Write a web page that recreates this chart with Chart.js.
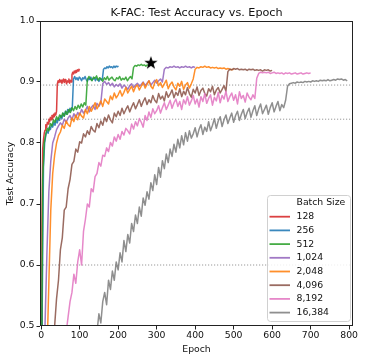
<!DOCTYPE html>
<html>
<head>
<meta charset="utf-8">
<script src="https://cdn.jsdelivr.net/npm/chart.js@4/dist/chart.umd.min.js"></script>
<style>
  html, body { margin: 0; padding: 0; background: #fff; }
  #wrap { width: 366px; height: 361px; }
</style>
</head>
<body>
<div id="wrap"><canvas id="acc" width="366" height="361"></canvas></div>
<script>
const batchLabels = ['128', '256', '512', '1,024', '2,048', '4,096', '8,192', '16,384']
const batchColors = ['#d62728', '#1f77b4', '#2ca02c', '#9467bd', '#ff7f0e', '#8c564b', '#e377c2', '#7f7f7f']

// first epoch and epoch spacing of each run
const epochStart = [0, 0, 0, 0, 0, 20, 50, 135]
const epochStep = [2, 3, 4, 5, 5, 5, 5, 5]

const acc128 = [
  0.30, 0.66, 0.79, 0.805, 0.816, 0.821, 0.83, 0.825, 0.834, 0.831,
  0.839, 0.835, 0.842, 0.838, 0.845, 0.84, 0.847, 0.843, 0.849, 0.846,
  0.852, 0.897, 0.902, 0.899, 0.904, 0.9, 0.903, 0.898, 0.902, 0.905,
  0.899, 0.904, 0.901, 0.897, 0.902, 0.9, 0.905, 0.898, 0.903, 0.9,
  0.912, 0.916, 0.913, 0.918, 0.915, 0.919, 0.916, 0.92, 0.918, 0.921,
  0.919
]
const acc256 = [
  0.30, 0.55, 0.76, 0.80, 0.812, 0.82, 0.816, 0.826, 0.822, 0.83,
  0.826, 0.834, 0.829, 0.838, 0.833, 0.841, 0.837, 0.845, 0.84, 0.849,
  0.844, 0.852, 0.847, 0.855, 0.85, 0.857, 0.853, 0.86, 0.905, 0.909,
  0.904, 0.907, 0.903, 0.908, 0.906, 0.902, 0.907, 0.905, 0.909, 0.904,
  0.901, 0.906, 0.904, 0.908, 0.903, 0.905, 0.907, 0.902, 0.906, 0.904,
  0.901, 0.906, 0.903, 0.905, 0.921, 0.923, 0.922, 0.925, 0.923, 0.926,
  0.924, 0.925, 0.923, 0.926, 0.924, 0.926, 0.925, 0.926
]
const acc512 = [
  0.30, 0.74, 0.80, 0.815, 0.824, 0.82, 0.832, 0.828, 0.838, 0.834,
  0.843, 0.838, 0.846, 0.842, 0.849, 0.844, 0.852, 0.847, 0.855, 0.85,
  0.858, 0.853, 0.86, 0.855, 0.862, 0.857, 0.864, 0.859, 0.866, 0.862,
  0.904, 0.909, 0.905, 0.902, 0.908, 0.906, 0.91, 0.903, 0.907, 0.905,
  0.901, 0.907, 0.904, 0.909, 0.903, 0.906, 0.908, 0.904, 0.902, 0.907,
  0.905, 0.909, 0.903, 0.906, 0.904, 0.908, 0.902, 0.906, 0.909, 0.905,
  0.924, 0.927, 0.926, 0.928, 0.927, 0.929, 0.927, 0.928, 0.926, 0.928,
  0.927, 0.929, 0.928, 0.927
]
const acc1024 = [
  0.30, 0.42, 0.50, 0.62, 0.72, 0.77, 0.80, 0.81, 0.822, 0.828,
  0.833, 0.829, 0.839, 0.834, 0.841, 0.845, 0.838, 0.848, 0.842, 0.85,
  0.846, 0.855, 0.849, 0.853, 0.86, 0.851, 0.858, 0.862, 0.855, 0.865,
  0.86, 0.866, 0.897, 0.901, 0.896, 0.899, 0.894, 0.898, 0.892, 0.896,
  0.893, 0.897, 0.89, 0.895, 0.892, 0.888, 0.894, 0.897, 0.891, 0.895,
  0.898, 0.893, 0.896, 0.9, 0.894, 0.898, 0.902, 0.895, 0.899, 0.903,
  0.898, 0.902, 0.905, 0.9, 0.921, 0.924, 0.923, 0.925, 0.924, 0.926,
  0.924, 0.925, 0.923, 0.925, 0.924, 0.926, 0.924, 0.925, 0.923, 0.925,
  0.924
]
const acc2048 = [
  0.20, 0.30, 0.38, 0.45, 0.57, 0.69, 0.75, 0.78, 0.80, 0.812,
  0.818, 0.829, 0.824, 0.836, 0.83, 0.827, 0.841, 0.835, 0.846, 0.838,
  0.849, 0.844, 0.841, 0.855, 0.848, 0.86, 0.852, 0.858, 0.866, 0.856,
  0.862, 0.869, 0.86, 0.872, 0.868, 0.864, 0.877, 0.871, 0.882, 0.874,
  0.879, 0.886, 0.877, 0.883, 0.891, 0.882, 0.888, 0.893, 0.884, 0.892,
  0.895, 0.887, 0.893, 0.899, 0.89, 0.896, 0.902, 0.893, 0.889, 0.899,
  0.904, 0.894, 0.899, 0.891, 0.897, 0.903, 0.889, 0.896, 0.9, 0.892,
  0.887, 0.898, 0.893, 0.901, 0.888, 0.895, 0.899, 0.89, 0.897, 0.905,
  0.921, 0.924, 0.923, 0.925, 0.924, 0.926, 0.924, 0.925, 0.923, 0.924,
  0.923, 0.924, 0.922, 0.923, 0.922, 0.923, 0.921, 0.922, 0.921, 0.92,
  0.921
]
const acc4096 = [
  0.20, 0.30, 0.40, 0.50, 0.545, 0.575, 0.625, 0.645, 0.69, 0.695,
  0.725, 0.74, 0.765, 0.77, 0.79, 0.785, 0.802, 0.80, 0.815, 0.81,
  0.82, 0.814, 0.827, 0.821, 0.818, 0.832, 0.825, 0.836, 0.829, 0.842,
  0.835, 0.846, 0.838, 0.833, 0.849, 0.843, 0.852, 0.845, 0.857, 0.848,
  0.855, 0.861, 0.851, 0.859, 0.866, 0.856, 0.863, 0.871, 0.86, 0.868,
  0.874, 0.863, 0.871, 0.866, 0.878, 0.87, 0.866, 0.881, 0.872, 0.877,
  0.869, 0.884, 0.875, 0.88, 0.887, 0.874, 0.883, 0.878, 0.889, 0.876,
  0.885, 0.879, 0.891, 0.881, 0.875, 0.888, 0.882, 0.892, 0.878, 0.886,
  0.89, 0.881, 0.877, 0.889, 0.884, 0.893, 0.879, 0.887, 0.891, 0.882,
  0.888, 0.894, 0.885, 0.917, 0.921, 0.92, 0.922, 0.921, 0.922, 0.92,
  0.921, 0.92, 0.921, 0.919, 0.921, 0.92, 0.921, 0.919, 0.92, 0.919,
  0.92, 0.918, 0.92, 0.919, 0.92, 0.918, 0.919
]
const acc8192 = [
  0.30, 0.37, 0.44, 0.49, 0.515, 0.54, 0.555, 0.585, 0.57, 0.605,
  0.625, 0.60, 0.655, 0.675, 0.70, 0.695, 0.725, 0.72, 0.745, 0.75,
  0.768, 0.762, 0.78, 0.778, 0.792, 0.786, 0.801, 0.795, 0.81, 0.803,
  0.814, 0.806, 0.819, 0.813, 0.824, 0.82, 0.815, 0.831, 0.823, 0.835,
  0.828, 0.84, 0.834, 0.826, 0.845, 0.837, 0.851, 0.842, 0.856, 0.848,
  0.853, 0.861, 0.849, 0.858, 0.866, 0.855, 0.862, 0.87, 0.857, 0.866,
  0.872, 0.86, 0.868, 0.855, 0.871, 0.864, 0.876, 0.862, 0.869, 0.878,
  0.864, 0.872, 0.859, 0.876, 0.868, 0.881, 0.865, 0.873, 0.879, 0.862,
  0.875, 0.869, 0.883, 0.866, 0.878, 0.872, 0.885, 0.868, 0.876, 0.882,
  0.87, 0.879, 0.864, 0.884, 0.873, 0.878, 0.867, 0.882, 0.875, 0.871,
  0.879, 0.873, 0.906, 0.914, 0.916, 0.915, 0.916, 0.915, 0.916, 0.914,
  0.915, 0.916, 0.914, 0.915, 0.914, 0.915, 0.913, 0.915, 0.914, 0.915,
  0.913, 0.914, 0.915, 0.913, 0.914, 0.915, 0.913, 0.914, 0.915, 0.914,
  0.915
]
const acc16384 = [
  0.40, 0.45, 0.49, 0.52, 0.505, 0.54, 0.555, 0.535, 0.575, 0.56,
  0.59, 0.575, 0.605, 0.592, 0.62, 0.605, 0.64, 0.622, 0.65, 0.636,
  0.668, 0.655, 0.682, 0.668, 0.695, 0.68, 0.71, 0.698, 0.72, 0.708,
  0.735, 0.722, 0.748, 0.732, 0.76, 0.744, 0.771, 0.758, 0.782, 0.768,
  0.79, 0.778, 0.798, 0.785, 0.806, 0.792, 0.812, 0.797, 0.817, 0.803,
  0.82, 0.808, 0.815, 0.825, 0.81, 0.822, 0.83, 0.814, 0.826, 0.819,
  0.835, 0.82, 0.829, 0.84, 0.824, 0.836, 0.843, 0.827, 0.838, 0.846,
  0.832, 0.841, 0.849, 0.834, 0.845, 0.852, 0.837, 0.847, 0.855, 0.84,
  0.85, 0.857, 0.842, 0.853, 0.861, 0.845, 0.856, 0.864, 0.848, 0.855,
  0.862, 0.847, 0.858, 0.866, 0.851, 0.86, 0.868, 0.853, 0.863, 0.858,
  0.87, 0.893, 0.897, 0.898, 0.899, 0.898, 0.90, 0.899, 0.90, 0.899,
  0.901, 0.90, 0.901, 0.90, 0.902, 0.901, 0.902, 0.901, 0.903, 0.902,
  0.903, 0.902, 0.904, 0.902, 0.903, 0.904, 0.903, 0.905, 0.904, 0.905,
  0.903, 0.904, 0.902
]
const accRuns = [acc128, acc256, acc512, acc1024, acc2048, acc4096, acc8192, acc16384]

const refLevels = [0.895, 0.839, 0.6]
const bestPoint = [285, 0.931]

const xTicks = [0, 100, 200, 300, 400, 500, 600, 700, 800]
const yTicks = [0.5, 0.6, 0.7, 0.8, 0.9, 1.0]

const FONT = "'DejaVu Sans', sans-serif"
Chart.defaults.font.family = FONT
Chart.defaults.color = '#111'

function starImage (r) {
  const c = document.createElement('canvas')
  c.width = c.height = Math.ceil(r * 2 + 2)
  const ctx = c.getContext('2d')
  const m = c.width / 2
  ctx.beginPath()
  for (let i = 0; i < 10; i++) {
    const rad = i % 2 ? r * 0.4 : r
    const a = -Math.PI / 2 + i * Math.PI / 5
    ctx.lineTo(m + rad * Math.cos(a), m + rad * Math.sin(a))
  }
  ctx.closePath()
  ctx.fillStyle = '#000'
  ctx.fill()
  return c
}

const runSets = accRuns.map((vals, i) => ({
  label: batchLabels[i],
  data: vals.map((v, j) => ({ x: epochStart[i] + j * epochStep[i], y: v })),
  borderColor: batchColors[i] + 'e0',
  borderWidth: 1.5,
  borderJoinStyle: 'round',
  pointRadius: 0,
  tension: 0,
  order: 10 - i
}))

const refSets = refLevels.map(v => ({
  label: 'ref',
  data: [{ x: -3, y: v }, { x: 810, y: v }],
  borderColor: '#999',
  borderWidth: 1,
  borderDash: [1.2, 1.8],
  pointRadius: 0,
  order: 20
}))

const starSet = {
  type: 'scatter',
  label: 'best',
  data: [{ x: bestPoint[0], y: bestPoint[1] }],
  pointStyle: starImage(7),
  order: 0
}

const framePlugin = {
  id: 'frame',
  afterDraw (chart) {
    const { ctx, chartArea: ca } = chart
    ctx.save()
    ctx.strokeStyle = '#222'
    ctx.lineWidth = 1
    ctx.strokeRect(Math.round(ca.left) + 0.5, Math.round(ca.top) + 0.5,
      Math.round(ca.right - ca.left) - 1, Math.round(ca.bottom - ca.top) - 1)

    // title
    ctx.fillStyle = '#111'
    ctx.font = '11.2px ' + FONT
    ctx.textAlign = 'center'
    ctx.textBaseline = 'alphabetic'
    ctx.fillText('K-FAC: Test Accuracy vs. Epoch', (ca.left + ca.right) / 2, 16)

    // legend
    const w = 83
    const h = 126
    const lx = ca.right - 3 - w
    const ly = ca.bottom - 5 - h
    ctx.beginPath()
    ctx.roundRect(lx + 0.5, ly + 0.5, w, h, 3)
    ctx.fillStyle = 'rgba(255,255,255,0.85)'
    ctx.fill()
    ctx.strokeStyle = '#d0d0d0'
    ctx.stroke()
    ctx.font = '9.3px ' + FONT
    ctx.textAlign = 'left'
    ctx.textBaseline = 'middle'
    ctx.fillStyle = '#111'
    const row = 13.7
    ctx.fillText('Batch Size', lx + 29.5, ly + 8)
    batchLabels.forEach((lab, i) => {
      const y = ly + 8 + (i + 1) * row
      ctx.strokeStyle = batchColors[i] + 'e0'
      ctx.lineWidth = 1.8
      ctx.beginPath()
      ctx.moveTo(lx + 2.5, y)
      ctx.lineTo(lx + 23, y)
      ctx.stroke()
      ctx.fillStyle = '#111'
      ctx.fillText(lab, lx + 29.5, y)
    })
    ctx.restore()
  }
}

new Chart(document.querySelector('#acc'), {
  type: 'line',
  plugins: [framePlugin],
  data: { datasets: [...refSets, ...runSets, starSet] },
  options: {
    responsive: false,
    devicePixelRatio: 1,
    animation: false,
    layout: { padding: { top: 21, right: 13, bottom: 0, left: 0 } },
    plugins: {
      legend: { display: false },
      title: { display: false },
      tooltip: { enabled: false }
    },
    scales: {
      x: {
        type: 'linear',
        min: -3,
        max: 810,
        afterFit: s => { s.height = 35 },
        afterBuildTicks: s => { s.ticks = xTicks.map(v => ({ value: v })) },
        grid: { drawOnChartArea: false, drawTicks: true, tickLength: 3.5, color: '#222' },
        border: { display: false },
        ticks: { font: { size: 9.3 }, color: '#111', padding: 1, maxRotation: 0, callback: v => String(v) },
        title: { display: true, text: 'Epoch', font: { size: 9.3 }, color: '#111', padding: { top: 0, bottom: 6 } }
      },
      y: {
        min: 0.5,
        max: 1.0,
        afterFit: s => { s.width = 40 },
        afterBuildTicks: s => { s.ticks = yTicks.map(v => ({ value: v })) },
        grid: { drawOnChartArea: false, drawTicks: true, tickLength: 3.5, color: '#222' },
        border: { display: false },
        ticks: { font: { size: 9.3 }, color: '#111', padding: 2, callback: v => v.toFixed(1) },
        title: { display: true, text: 'Test Accuracy', font: { size: 9.3 }, color: '#111', padding: { top: 5, bottom: 0 } }
      }
    }
  }
})
</script>
</body>
</html>
